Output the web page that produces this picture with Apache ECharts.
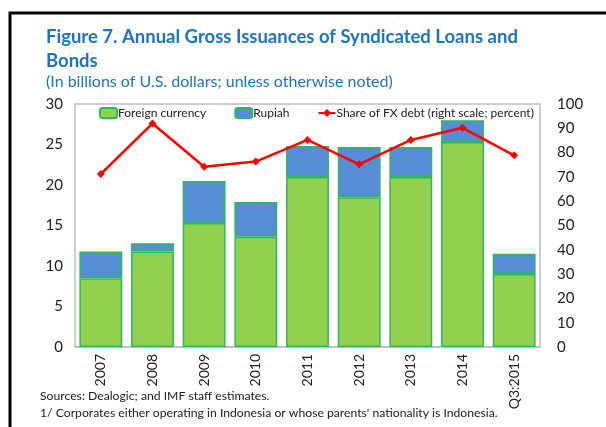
<!DOCTYPE html>
<html><head><meta charset="utf-8">
<script src="https://cdn.jsdelivr.net/npm/echarts@6/dist/echarts.min.js"></script>
<style>html,body{margin:0;padding:0;background:#fff}#c{width:606px;height:427px}</style>
</head><body><div id="c"></div>
<script>
const categories = ['2007','2008','2009','2010','2011','2012','2013','2014','Q3:2015'];
const foreignCurrency = [8.5, 11.8, 15.3, 13.6, 21.0, 18.5, 21.0, 25.3, 9.0];
const rupiah = [3.3, 1.0, 5.2, 4.3, 3.8, 6.2, 3.7, 2.7, 2.5];
const fxShare = [71.2, 92.0, 74.2, 76.3, 85.2, 75.2, 85.2, 90.2, 78.9];
const leftTicks = {min: 0, max: 30, interval: 5};
const rightTicks = {min: 0, max: 100, interval: 10};

const FONT = 'Lato';
const chart = echarts.init(document.getElementById('c'), null, {renderer: 'canvas'});
chart.setOption({
  animation: false,
  textStyle: {fontFamily: FONT},
  title: {
    left: 46, top: 25, padding: 0,
    text: 'Figure 7. Annual Gross Issuances of Syndicated Loans and\nBonds',
    textStyle: {color: '#1b75c3', fontSize: 18.5, fontWeight: 'bold', lineHeight: 24, fontFamily: FONT},
    subtext: '(In billions of U.S. dollars; unless otherwise noted)',
    subtextStyle: {color: '#1b75c3', fontSize: 16, lineHeight: 18, fontFamily: FONT},
    itemGap: 0
  },
  legend: {
    top: 107, left: 99, padding: 0,
    itemWidth: 17, itemHeight: 10, itemGap: 28,
    textStyle: {fontSize: 12, color: '#222', fontFamily: FONT, padding: [0,0,0,-4]},
    data: ['Foreign currency', 'Rupiah', 'Share of FX debt (right scale; percent)']
  },
  grid: {left: 75, right: 66, top: 104, bottom: 80, show: true, borderColor: '#bfbfbf', borderWidth: 1.5},
  xAxis: {
    type: 'category', data: categories,
    axisLine: {show: true, lineStyle: {color: '#bfbfbf', width: 1.5}},
    axisTick: {show: false},
    axisLabel: {rotate: 90, fontSize: 14, color: '#222', margin: 7, fontFamily: FONT}
  },
  yAxis: [
    {type: 'value', min: leftTicks.min, max: leftTicks.max, interval: leftTicks.interval,
     axisLine: {show: false}, axisTick: {show: false}, splitLine: {show: false},
     axisLabel: {fontSize: 15, color: '#222', margin: 12, fontFamily: FONT}},
    {type: 'value', min: rightTicks.min, max: rightTicks.max, interval: rightTicks.interval,
     axisLine: {show: false}, axisTick: {show: false}, splitLine: {show: false},
     axisLabel: {fontSize: 15, color: '#222', margin: 17, fontFamily: FONT}}
  ],
  series: [
    {name: 'Foreign currency', type: 'bar', stack: 'a', data: foreignCurrency, barCategoryGap: '17%',
     itemStyle: {color: '#92d050', borderColor: '#2fb85a', borderWidth: 1.5}},
    {name: 'Rupiah', type: 'bar', stack: 'a', data: rupiah,
     itemStyle: {color: '#558ed5', borderColor: '#2fb85a', borderWidth: 1.5}},
    {name: 'Share of FX debt (right scale; percent)', type: 'line', yAxisIndex: 1, data: fxShare,
     symbol: 'diamond', symbolSize: 8, lineStyle: {color: '#ff0000', width: 2.5},
     itemStyle: {color: '#ff0000'}}
  ],
  graphic: [
    {type: 'rect', shape: {x: 10, y: 13, width: 620, height: 450}, style: {fill: 'none', stroke: '#000', lineWidth: 3}},
    {type: 'text', left: 40, top: 390, style: {text: 'Sources: Dealogic; and IMF staff estimates.', fontSize: 12.2, fill: '#222', fontFamily: FONT}},
    {type: 'text', left: 40, top: 407, style: {text: "1/ Corporates either operating in Indonesia or whose parents' nationality is Indonesia.", fontSize: 12.2, fill: '#222', fontFamily: FONT}}
  ]
});
</script></body></html>
